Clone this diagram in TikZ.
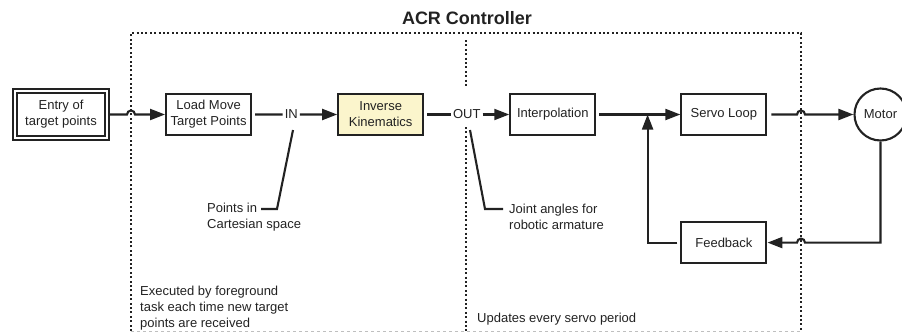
\documentclass[tikz,border=0pt]{standalone}
\usepackage{fontspec}
\setmainfont{Liberation Sans}
\usetikzlibrary{positioning,calc,arrows.meta}
\definecolor{ikyellow}{HTML}{FBF5CC}
\definecolor{inkgray}{HTML}{222222}
\begin{document}
\begin{tikzpicture}[x=1pt, y=1pt, font=\fontsize{13}{16}\selectfont, color=inkgray]
% Styles
\tikzstyle{block} = [rectangle, draw=inkgray, line width=2.1pt, minimum width=85pt, minimum height=41pt, align=center, inner sep=2pt]
\tikzstyle{entrybox} = [rectangle, draw=inkgray, line width=2.1pt, double=white, double distance=2pt, minimum width=92pt, minimum height=47pt, align=center]
\tikzstyle{motorbox} = [circle, draw=inkgray, line width=2.1pt, minimum size=52pt, inner sep=0pt]
\tikzstyle{tag} = [inner sep=2pt]
\tikzstyle{note} = [anchor=north west, inner sep=0pt, align=left]
\tikzstyle{arrow} = [line width=2.1pt, -{Triangle[length=15pt,width=11pt]}]
\tikzstyle{line} = [line width=2.1pt]
\tikzstyle{region} = [line width=1.8pt, dash pattern=on 2pt off 2.4pt]

\useasboundingbox (0,0) rectangle (902,-332);

% Controller region
\coordinate (boxtl) at (131,-33);
\coordinate (boxtr) at (801,-33);
\coordinate (boxbl) at (131,-331);
\coordinate (boxbr) at (801,-331);
\node (title) at (467,-18) {\fontsize{18}{20}\selectfont\bfseries ACR Controller};
\draw [region] (boxbl) -- (boxtl) -- (boxtr) -- (boxbr);
\draw [line width=0.6pt, gray!50, dashed] (boxbl) -- (boxbr);
\draw [region] (466,-40) -- (466,-86);
\draw [region] (466,-127) -- (466,-331);

% Nodes
\node (entry) [entrybox] at (61,-114.5) {Entry of\\target points};
\node (load) [block, right=57pt of entry] {Load Move\\Target Points};
\node (ik) [block, fill=ikyellow, right=85pt of load] {Inverse\\Kinematics};
\node (interp) [block, right=85pt of ik] {Interpolation};
\node (servo) [block, right=84pt of interp] {Servo Loop};
\node (motor) [motorbox, right=86pt of servo] {Motor};
\node (feedback) [block, below=85pt of servo] {Feedback};

\node (in) [tag] at ($(load.east)!0.46!(ik.west)$) {IN};
\node (out) [tag] at ($(ik.east)!0.5!(interp.west)$) {OUT};
\coordinate (junc) at ($(interp.east)!0.61!(servo.west)$);

% Notes
\node (cart) [note] at (207,-203) {Points in\\Cartesian space};
\node (joint) [note] at (509,-204) {Joint angles for\\robotic armature};
\node (fgtask) [note] at (140,-286) {Executed by foreground\\task each time new target\\points are received};
\node (servotask) [note] at (477,-313) {Updates every servo period};
\coordinate (intop) at (293,-130);
\coordinate (inbend) at (277,-209);
\coordinate (inend) at (261,-209);
\coordinate (outtop) at (470,-130);
\coordinate (outbend) at (485,-209);
\coordinate (outend) at (503,-209);

% Arrows
\draw [arrow] ([xshift=2pt]entry.east) -- ([xshift=-4pt]entry -| boxtl) arc (180:0:4pt) -- (load.west);
\draw [line] ([xshift=3pt]load.east) -- (in.west);
\draw [arrow] (in.east) -- (ik.west);
\draw [line] ([xshift=3pt]ik.east) -- (out.west);
\draw [arrow] (out.east) -- (interp.west);
\draw [arrow] ([xshift=3pt]interp.east) -- (servo.west);
\draw [arrow] ([xshift=4pt]servo.east) -- ([xshift=-4pt]servo -| boxtr) arc (180:0:4pt) -- (motor.west);
\draw [arrow] (motor.south) |- ([xshift=4pt]feedback -| boxtr) arc (0:180:4pt) -- (feedback.east);
\draw [arrow] ([xshift=-3pt]feedback.west) -| (junc);
\draw [line] (intop) -- (inbend) -- (inend);
\draw [line] (outtop) -- (outbend) -- (outend);

\end{tikzpicture}
\end{document}
